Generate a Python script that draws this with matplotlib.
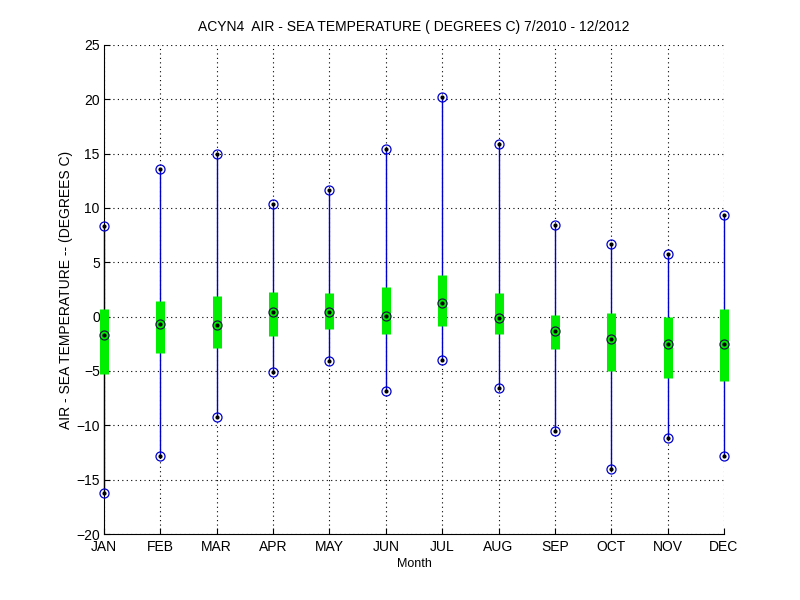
import numpy as np
import matplotlib
matplotlib.use('Agg')
import matplotlib.pyplot as plt

plt.rcParams['font.family'] = ['Liberation Sans', 'DejaVu Sans']
plt.rcParams['font.size'] = 10

# monthly stats
months = ['JAN', 'FEB', 'MAR', 'APR', 'MAY', 'JUN',
          'JUL', 'AUG', 'SEP', 'OCT', 'NOV', 'DEC']
t_max = [8.3, 13.6, 15.0, 10.4, 11.7, 15.4, 20.2, 15.9, 8.4, 6.7, 5.8, 9.4]
t_min = [-16.2, -12.8, -9.2, -5.1, -4.1, -6.8, -4.0, -6.6, -10.5, -14.0, -11.2, -12.8]
t_med = [-1.7, -0.65, -0.8, 0.4, 0.4, 0.1, 1.3, -0.1, -1.3, -2.1, -2.5, -2.5]
box_hi = [0.7, 1.4, 1.9, 2.3, 2.2, 2.7, 3.8, 2.2, 0.15, 0.3, 0.0, 0.7]
box_lo = [-5.25, -3.3, -2.85, -1.75, -1.1, -1.6, -0.9, -1.6, -2.95, -5.0, -5.6, -5.9]

x = np.arange(1, len(months) + 1)

fig = plt.figure(figsize=(8, 6), dpi=100)
ax = fig.add_axes([0.13, 0.11, 0.775, 0.815])

# whiskers
ax.vlines(x, t_min, t_max, color='#0000cc', linewidth=1, zorder=2, clip_on=False)
# green boxes
ax.vlines(x, box_lo, box_hi, color='#00ee00', linewidth=6.5, zorder=3, clip_on=False)
# max / min markers
for y in (t_max, t_min):
    ax.plot(x, y, 'o', mfc='none', mec='#0000cc', ms=6.5, mew=0.9, zorder=4, clip_on=False)
    ax.plot(x, y, '.', color='black', ms=4, zorder=5, clip_on=False)
# medians
ax.plot(x, t_med, 'o', mfc='none', mec='#1a1a40', ms=6.5, mew=0.9, zorder=4, clip_on=False)
ax.plot(x, t_med, '.', color='black', ms=4, zorder=5, clip_on=False)

ax.set_xlim(1, 12)
ax.set_ylim(-20, 25)
ax.set_xticks(x)
ax.set_xticklabels(months)
ax.set_yticks(np.arange(-20, 26, 5))
ax.tick_params(direction='in', length=4, width=0.8, labelsize=10)
ax.tick_params(axis='x', pad=4)
ax.tick_params(axis='y', pad=3)

ax.grid(True, linestyle=(0, (1, 3)), color='black', linewidth=0.8)
ax.set_axisbelow(True)
ax.spines['top'].set_visible(False)
ax.spines['right'].set_visible(False)

ax.set_title('ACYN4  AIR - SEA TEMPERATURE ( DEGREES C) 7/2010 - 12/2012', fontsize=10, pad=10)
ax.set_xlabel('Month', fontsize=9, labelpad=3)
ax.set_ylabel('AIR - SEA TEMPERATURE -- (DEGREES C)', fontsize=10, labelpad=2)

fig.savefig('out.png', dpi=100)
